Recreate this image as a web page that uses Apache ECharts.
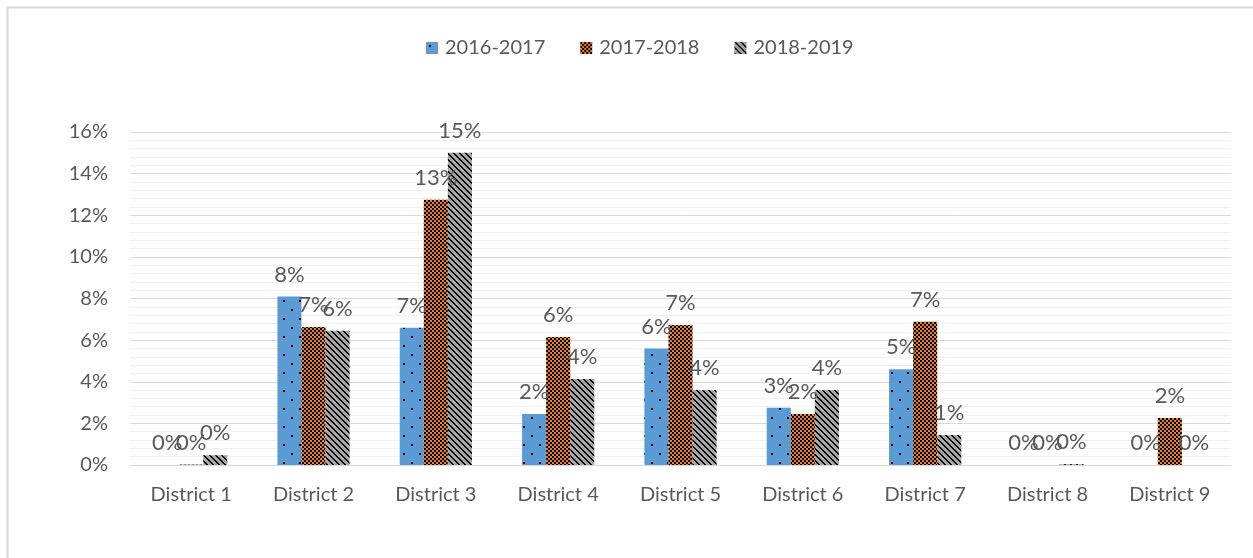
<!DOCTYPE html>
<html>
<head>
<meta charset="utf-8">
<script src="https://cdn.jsdelivr.net/npm/echarts@6/dist/echarts.min.js"></script>
<style>
html, body { margin: 0; padding: 0; background: #fff; }
#main { width: 1253px; height: 558px; }
</style>
</head>
<body>
<div id="main"></div>
<script>
var districts = ['District 1', 'District 2', 'District 3', 'District 4', 'District 5', 'District 6', 'District 7', 'District 8', 'District 9'];
var seriesNames = ['2016-2017', '2017-2018', '2018-2019'];
var y2016 = [0, 8.1, 6.6, 2.45, 5.6, 2.75, 4.6, 0, 0];
var y2017 = [0.02, 6.63, 12.75, 6.15, 6.73, 2.45, 6.88, 0, 2.26];
var y2018 = [0.47, 6.45, 15.0, 4.13, 3.6, 3.6, 1.44, 0.04, 0];
var yTicks = [0, 2, 4, 6, 8, 10, 12, 14, 16];

// small tiles used as pattern fills
function tile(w, h, draw) {
    var c = document.createElement('canvas');
    c.width = w; c.height = h;
    draw(c.getContext('2d'));
    return c;
}
var dots = tile(16, 18, function (g) {
    g.fillStyle = '#5B9BD5'; g.fillRect(0, 0, 16, 18);
    g.fillStyle = '#000';
    g.fillRect(3, 3, 2, 2);
    g.fillRect(11, 12, 2, 2);
});
var checker = tile(4, 4, function (g) {
    g.fillStyle = '#ED7D31'; g.fillRect(0, 0, 4, 4);
    g.fillStyle = '#000';
    g.fillRect(0, 0, 2, 2);
    g.fillRect(2, 2, 2, 2);
});
var stripes = tile(6, 6, function (g) {
    g.fillStyle = '#A5A5A5'; g.fillRect(0, 0, 6, 6);
    g.fillStyle = '#000';
    for (var i = 0; i < 6; i++) {
        g.fillRect(i, i, 1, 1);
        g.fillRect((i + 1) % 6, i, 1, 1);
    }
});
var fills = [dots, checker, stripes];

var myChart = echarts.init(document.getElementById('main'));

var barSeries = [y2016, y2017, y2018].map(function (vals, i) {
    return {
        name: seriesNames[i],
        type: 'bar',
        barGap: '0%',
        barCategoryGap: '41%',
        data: vals,
        itemStyle: {
            color: { image: fills[i], repeat: 'repeat' }
        },
        label: {
            show: true,
            position: 'top',
            distance: 11,
            color: '#595959',
            fontSize: 22,
            fontFamily: 'Lato',
            formatter: function (p) { return Math.round(p.value) + '%'; }
        }
    };
});

var option = {
    animation: false,
    graphic: [{
        type: 'rect',
        shape: { x: 7.5, y: 7.5, width: 1300, height: 600 },
        style: { fill: 'none', stroke: '#D9D9D9', lineWidth: 2 },
        silent: true
    }],
    legend: {
        top: 33,
        left: 421,
        itemWidth: 12,
        itemHeight: 12,
        itemGap: 35,
        icon: 'rect',
        textStyle: { color: '#595959', fontSize: 20, fontFamily: 'Lato', padding: [0, 0, 0, 2] },
        data: seriesNames.map(function (n, i) {
            return { name: n, itemStyle: { color: { image: fills[i], repeat: 'repeat' } } };
        })
    },
    grid: { left: 130, right: 22, top: 132, bottom: 93 },
    xAxis: {
        type: 'category',
        data: districts,
        axisLine: { lineStyle: { color: '#D9D9D9', width: 1 } },
        axisTick: { show: false },
        axisLabel: { color: '#595959', fontSize: 20, fontFamily: 'Lato', margin: 20 }
    },
    yAxis: {
        type: 'value',
        min: yTicks[0],
        max: yTicks[yTicks.length - 1],
        interval: 2,
        axisLine: { show: false },
        axisTick: { show: false },
        axisLabel: {
            color: '#595959', fontSize: 20, fontFamily: 'Lato', margin: 22,
            formatter: function (v) { return v + '%'; }
        },
        splitLine: { lineStyle: { color: '#D9D9D9', width: 1 } },
        minorTick: { show: false, splitNumber: 5 },
        minorSplitLine: { show: true, lineStyle: { color: '#F0F0F0', width: 1 } }
    },
    series: barSeries
};

myChart.setOption(option);
</script>
</body>
</html>
